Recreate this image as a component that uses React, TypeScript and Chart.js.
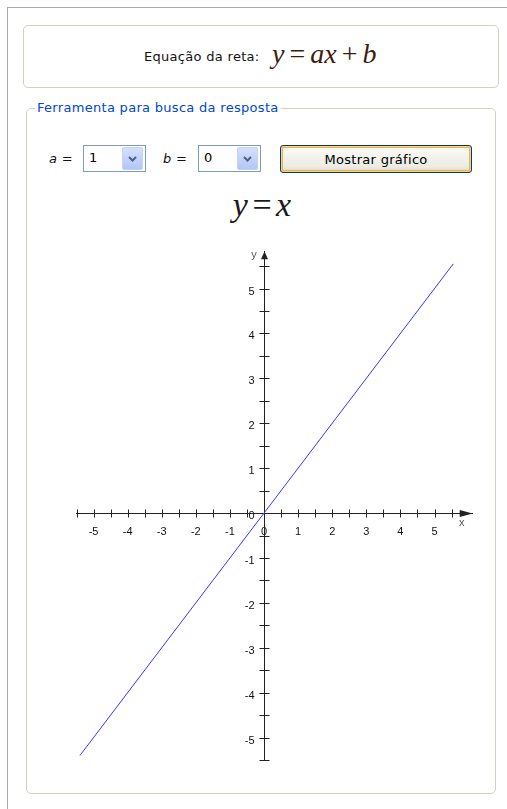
import React, { useEffect, useRef } from "react";
import { Chart, registerables } from "chart.js";

Chart.register(...registerables);

// Axis tick positions (every half unit) and labelled integer values
const xTickValues = [-5.5, -5, -4.5, -4, -3.5, -3, -2.5, -2, -1.5, -1, -0.5, 0, 0.5, 1, 1.5, 2, 2.5, 3, 3.5, 4, 4.5, 5, 5.5];
const yTickValues = [-5.5, -5, -4.5, -4, -3.5, -3, -2.5, -2, -1.5, -1, -0.5, 0, 0.5, 1, 1.5, 2, 2.5, 3, 3.5, 4, 4.5, 5, 5.5];
const xLabelValues = [-5, -4, -3, -2, -1, 0, 1, 2, 3, 4, 5];
const yLabelValues = [-5, -4, -3, -2, -1, 0, 1, 2, 3, 4, 5];

// Visible extent of each axis (the arrow tip sits at the max)
const xRange = [-5.5, 6.12];
const yRange = [-5.5, 5.83];

// Plotted line y = x (a = 1, b = 0), given by its two end points
const lineX = [-5.4, 5.55];
const lineY = [-5.4, 5.55];

const AXIS_COLOR = "#222";
const LABEL_FONT = '11px "Liberation Sans", Arial, sans-serif';

const axisLabels = {
  id: "axisLabels",
  beforeDraw(chart: any) {
    const { ctx } = chart;
    const x = chart.scales.x;
    const y = chart.scales.y;
    const ox = x.getPixelForValue(0);
    const oy = y.getPixelForValue(0);
    const xe = x.getPixelForValue(x.max);
    const ye = y.getPixelForValue(y.max);
    ctx.save();
    ctx.font = LABEL_FONT;
    ctx.fillStyle = "#111";
    ctx.textAlign = "center";
    ctx.textBaseline = "middle";
    xLabelValues.forEach((v) => ctx.fillText(String(v), x.getPixelForValue(v), oy + 18.5));
    ctx.textAlign = "right";
    yLabelValues.forEach((v) => ctx.fillText(String(v), ox - 9.5, y.getPixelForValue(v) + 3));
    ctx.textAlign = "center";
    ctx.fillStyle = "#555";
    ctx.fillText("x", xe - 11, oy + 10);
    ctx.fillText("y", ox - 10, ye + 4);
    ctx.restore();
  },
  beforeDatasetsDraw(chart: any) {
    const { ctx } = chart;
    const x = chart.scales.x;
    const y = chart.scales.y;
    const ox = Math.round(x.getPixelForValue(0)) + 0.5;
    const oy = Math.round(y.getPixelForValue(0)) + 0.5;
    const xe = x.getPixelForValue(x.max);
    const ye = y.getPixelForValue(y.max);
    ctx.save();
    ctx.strokeStyle = AXIS_COLOR;
    ctx.lineWidth = 1;
    ctx.beginPath();
    xTickValues.forEach((v) => {
      const px = Math.round(x.getPixelForValue(v)) + 0.5;
      ctx.moveTo(px, oy - 4);
      ctx.lineTo(px, oy + 4);
    });
    yTickValues.forEach((v) => {
      const py = Math.round(y.getPixelForValue(v)) + 0.5;
      ctx.moveTo(ox - 5, py);
      ctx.lineTo(ox + 5, py);
    });
    ctx.stroke();
    ctx.fillStyle = AXIS_COLOR;
    ctx.beginPath();
    ctx.moveTo(xe, oy);
    ctx.lineTo(xe - 13, oy - 3.5);
    ctx.lineTo(xe - 13, oy + 3.5);
    ctx.closePath();
    ctx.fill();
    ctx.beginPath();
    ctx.moveTo(ox, ye);
    ctx.lineTo(ox - 3.5, ye + 8);
    ctx.lineTo(ox + 3.5, ye + 8);
    ctx.closePath();
    ctx.fill();
    ctx.restore();
  },
};

const uiFont = '"DejaVu Sans", Verdana, sans-serif';
const mathFont = '"Liberation Serif", "Times New Roman", serif';
const uiText = { fontFamily: uiFont, fontSize: 13, letterSpacing: 0.3 } as const;

function Chevron() {
  return (
    <svg width="9" height="6" viewBox="0 0 9 6" style={{ display: "block" }}>
      <path d="M1 1 L4.5 4.5 L8 1" stroke="#4d6185" strokeWidth="2" fill="none" />
    </svg>
  );
}

function Select({ left, value }: { left: number; value: string }) {
  return (
    <div
      style={{
        position: "absolute",
        left,
        top: 145,
        width: 63,
        height: 27,
        boxSizing: "border-box",
        border: "1px solid #7f9db9",
        background: "#fff",
      }}
    >
      <span
        style={{
          ...uiText,
          position: "absolute",
          left: 5,
          top: 4,
          lineHeight: "16px",
          color: "#000",
        }}
      >
        {value}
      </span>
      <div
        style={{
          position: "absolute",
          left: 38,
          top: 1,
          width: 21,
          height: 23,
          boxSizing: "border-box",
          border: "1px solid #c3d3fd",
          borderRadius: 2,
          background: "linear-gradient(#d4e0fd, #b3c6f6)",
          display: "flex",
          alignItems: "center",
          justifyContent: "center",
        }}
      >
        <Chevron />
      </div>
    </div>
  );
}

export default function App() {
  const canvasRef = useRef<HTMLCanvasElement>(null);

  useEffect(() => {
    const canvas = canvasRef.current;
    if (!canvas) return;
    const chart = new Chart(canvas, {
      type: "line",
      data: {
        datasets: [
          {
            data: lineX.map((v, i) => ({ x: v, y: lineY[i] })),
            borderColor: "#3535ff",
            borderWidth: 1,
            pointRadius: 0,
            fill: false,
            tension: 0,
          },
        ],
      },
      options: {
        animation: false,
        responsive: false,
        maintainAspectRatio: false,
        events: [],
        layout: { padding: { left: 36.5, right: 27.3, top: 21.3, bottom: 30 } },
        plugins: { legend: { display: false }, tooltip: { enabled: false } },
        scales: {
          x: {
            type: "linear",
            min: xRange[0],
            max: xRange[1],
            position: { y: 0 },
            grid: { display: false },
            ticks: { display: false },
            border: { display: true, color: AXIS_COLOR, width: 1 },
          },
          y: {
            type: "linear",
            min: yRange[0],
            max: yRange[1],
            position: { x: 0 },
            grid: { display: false },
            ticks: { display: false },
            border: { display: true, color: AXIS_COLOR, width: 1 },
          },
        },
      } as any,
      plugins: [axisLabels],
    });
    return () => chart.destroy();
  }, []);

  return (
    <div
      style={{
        position: "absolute",
        left: 0,
        top: 0,
        width: 507,
        height: 809,
        overflow: "hidden",
        background: "#fff",
        fontFamily: uiFont,
      }}
    >
      {/* page frame */}
      <div
        style={{
          position: "absolute",
          left: 7,
          top: 7,
          width: 520,
          height: 820,
          borderLeft: "1px solid #aaa",
          borderTop: "1px solid #aaa",
        }}
      />

      {/* equation header */}
      <div
        style={{
          position: "absolute",
          left: 23,
          top: 25,
          width: 476,
          height: 63,
          boxSizing: "border-box",
          border: "1px solid #d3d1c2",
          borderRadius: 5,
        }}
      />
      <span
        style={{
          ...uiText,
          position: "absolute",
          left: 144,
          top: 49,
          lineHeight: "16px",
          color: "#111",
          whiteSpace: "nowrap",
        }}
      >
        Equação da reta:
      </span>
      <span
        style={{
          position: "absolute",
          left: 272,
          top: 40,
          fontFamily: mathFont,
          fontSize: 28,
          lineHeight: "28px",
          color: "#3d1c0c",
          whiteSpace: "nowrap",
          wordSpacing: -2,
        }}
      >
        <i>y</i> = <i>ax</i> + <i>b</i>
      </span>

      {/* tool fieldset */}
      <div
        style={{
          position: "absolute",
          left: 26,
          top: 108,
          width: 470,
          height: 686,
          boxSizing: "border-box",
          border: "1px solid #d3d1c2",
          borderRadius: 5,
        }}
      />
      <span
        style={{
          ...uiText,
          position: "absolute",
          left: 35,
          top: 100,
          padding: "0 2px",
          background: "#fff",
          lineHeight: "16px",
          color: "#0046d5",
          whiteSpace: "nowrap",
        }}
      >
        Ferramenta para busca da resposta
      </span>

      {/* controls */}
      <span
        style={{
          ...uiText,
          position: "absolute",
          left: 49,
          top: 151,
          lineHeight: "16px",
          fontStyle: "italic",
          color: "#111",
          whiteSpace: "nowrap",
        }}
      >
        a =
      </span>
      <Select left={83} value="1" />
      <span
        style={{
          ...uiText,
          position: "absolute",
          left: 163,
          top: 151,
          lineHeight: "16px",
          fontStyle: "italic",
          color: "#111",
          whiteSpace: "nowrap",
        }}
      >
        b =
      </span>
      <Select left={198} value="0" />
      <div
        style={{
          ...uiText,
          position: "absolute",
          left: 280,
          top: 145,
          width: 192,
          height: 28,
          boxSizing: "border-box",
          border: "1px solid #003c74",
          borderRadius: 3,
          background: "linear-gradient(#fbfbf8, #ecebe4 80%, #dcd8cc)",
          boxShadow: "inset 0 0 0 1px #f7d48a, inset 0 0 0 2px #f0b43f",
          display: "flex",
          alignItems: "center",
          justifyContent: "center",
          color: "#000",
          whiteSpace: "nowrap",
        }}
      >
        Mostrar gráfico
      </div>

      {/* graph title */}
      <div
        style={{
          position: "absolute",
          left: 0,
          top: 188,
          width: 524,
          textAlign: "center",
          fontFamily: mathFont,
          fontSize: 34,
          lineHeight: "34px",
          color: "#1a1a1a",
          whiteSpace: "nowrap",
          wordSpacing: -4,
        }}
      >
        <i>y</i> = <i>x</i>
      </div>

      <canvas
        ref={canvasRef}
        width={460}
        height={560}
        style={{ position: "absolute", left: 40, top: 230, width: 460, height: 560, display: "block" }}
      />
    </div>
  );
}
